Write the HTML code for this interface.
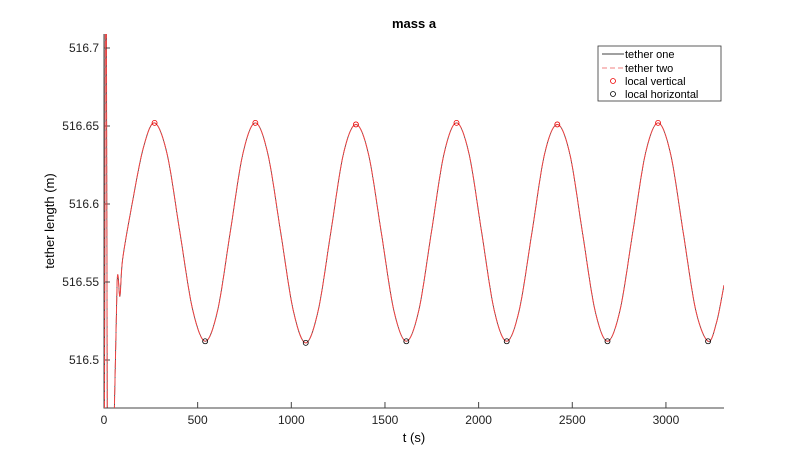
<!DOCTYPE html>
<html><head><meta charset="utf-8"><style>
body{margin:0;background:#fff;font-family:"Liberation Sans",sans-serif}
svg text{font-family:"Liberation Sans",sans-serif}
</style></head><body>
<svg id="c" width="800" height="459">
<rect width="800" height="459" fill="#fff"/>
<text x="414" y="28" font-size="13" font-weight="bold" text-anchor="middle">mass a</text>
<defs><clipPath id="clip"><rect x="104" y="34" width="620" height="374"/></clipPath></defs>
<g id="grid"></g>
<g id="lines" clip-path="url(#clip)"></g>
<g id="marks"></g>
<text x="414" y="442" font-size="13" text-anchor="middle">t (s)</text>
<text transform="translate(54,221) rotate(-90)" font-size="13" text-anchor="middle">tether length (m)</text>
<g>
<rect x="598" y="46" width="123" height="55" fill="#fff" stroke="#333" stroke-width="0.8"/>
<line x1="602" y1="54" x2="624" y2="54" stroke="#000" stroke-width="0.8"/>
<text x="625" y="58" font-size="11">tether one</text>
<line x1="602" y1="68" x2="624" y2="68" stroke="#f08080" stroke-dasharray="5,3" stroke-width="1"/>
<text x="625" y="72" font-size="11">tether two</text>
<circle cx="613" cy="81" r="2.5" fill="none" stroke="#e00" stroke-width="0.8"/>
<text x="625" y="85" font-size="11">local vertical</text>
<circle cx="613" cy="94" r="2.5" fill="none" stroke="#000" stroke-width="0.8"/>
<text x="625" y="98" font-size="11">local horizontal</text>
</g>
</svg>
<script>
const tPts=[2,8,12,18,40,52,70,85,100,150,210,270,337,405,472,540,
607,674,741,808,875,943,1010,1077,1144,1211,1278,1345,1412,1480,1547,1614,
1681,1748,1815,1882,1949,2016,2083,2150,2217,2285,2352,2420,2487,2554,2621,2688,
2755,2823,2890,2958,3025,3092,3159,3225,3270,3310];
const vPts=[516.44,516.76,516.76,516.44,516.44,516.45,516.55,516.541,516.565,516.6,516.636,516.652,516.632,516.582,516.533,516.512,
516.532,516.582,516.632,516.652,516.632,516.582,516.532,516.511,516.532,516.582,516.632,516.651,516.632,516.582,516.532,516.512,
516.532,516.582,516.632,516.652,516.632,516.582,516.532,516.512,516.532,516.582,516.632,516.651,516.632,516.582,516.532,516.512,
516.532,516.582,516.632,516.652,516.632,516.582,516.532,516.512,516.524,516.548];
const peakT=[270,808,1345,1882,2420,2958];
const peakV=[516.652,516.652,516.651,516.652,516.651,516.652];
const troughT=[540,1077,1614,2150,2688,3225];
const troughV=[516.512,516.511,516.512,516.512,516.512,516.512];
const xTicks=[0,500,1000,1500,2000,2500,3000];
const yTicks=[516.5,516.55,516.6,516.65,516.7];
const X=t=>104+t*(620/3310);
const Y=v=>360-(v-516.5)*1560;
const NS='http://www.w3.org/2000/svg';
function mk(tag,attrs,parent){const e=document.createElementNS(NS,tag);for(const k in attrs)e.setAttribute(k,attrs[k]);parent.appendChild(e);return e;}
const grid=document.getElementById('grid');
const ax=mk('path',{d:'M104,34V408H724',fill:'none',stroke:'#444','stroke-width':1},grid);


xTicks.forEach(t=>{mk('line',{x1:X(t),x2:X(t),y1:408,y2:402,stroke:'#444'},grid);
const tx=mk('text',{x:X(t),y:424,'font-size':12,'text-anchor':'middle',fill:'#222'},grid);tx.textContent=t;

});
yTicks.forEach(v=>{mk('line',{x1:104,x2:110,y1:Y(v),y2:Y(v),stroke:'#444'},grid);
const tx=mk('text',{x:99,y:Y(v)+4,'font-size':12,'text-anchor':'end',fill:'#222'},grid);tx.textContent=String(v);

});
function path(){const p=tPts.map((t,i)=>[X(t),Y(vPts[i])]);let d='M'+p[0][0]+','+p[0][1];
for(let i=0;i<p.length-1;i++){const p0=p[Math.max(0,i-1)],p1=p[i],p2=p[i+1],p3=p[Math.min(p.length-1,i+2)];
if(i<6){d+='L'+p2[0]+','+p2[1];continue;}
const c1=[p1[0]+(p2[0]-p0[0])/6,p1[1]+(p2[1]-p0[1])/6],c2=[p2[0]-(p3[0]-p1[0])/6,p2[1]-(p3[1]-p1[1])/6];
d+='C'+c1+' '+c2+' '+p2;}return d;}
const lines=document.getElementById('lines');const d=path();
const l1=mk('path',{d:d,fill:'none',stroke:'#333','stroke-width':0.8},lines);


const l2=mk('path',{d:d,fill:'none',stroke:'#e44','stroke-width':1,'stroke-dasharray':'8,1'},lines);


const marks=document.getElementById('marks');
peakT.forEach((t,i)=>{const c=mk('circle',{cx:X(t),cy:Y(peakV[i]),r:2.5,fill:'none',stroke:'#e00','stroke-width':0.8},marks);

});
troughT.forEach((t,i)=>{const c=mk('circle',{cx:X(t),cy:Y(troughV[i]),r:2.5,fill:'none',stroke:'#000','stroke-width':0.8},marks);

});
</script>
</body></html>
